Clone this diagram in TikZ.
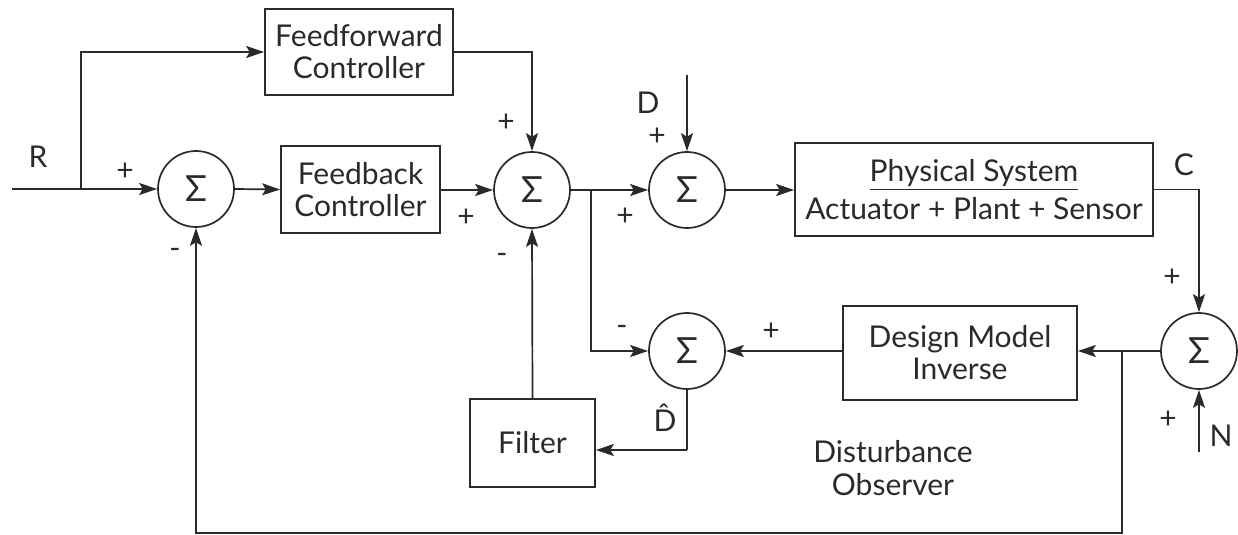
\documentclass[tikz,border=0pt]{standalone}
\usepackage{fontspec}
\setmainfont{Lato}
\usetikzlibrary{arrows.meta}
\definecolor{ink}{HTML}{2A2A2A}
\tikzset{
  every picture/.style={x=0.5pt,y=-0.5pt},
  wire/.style={draw=ink,line width=0.85pt},
  arr/.style={wire,-{Stealth[length=9pt,width=6pt,inset=1.8pt]}},
  sumnode/.style={circle,draw=ink,line width=0.85pt,minimum size=38pt,inner sep=0pt,font=\fontsize{18}{18}\selectfont,text=ink},
  blk/.style={rectangle,draw=ink,line width=0.85pt,inner sep=0pt,align=center,font=\fontsize{15}{16}\selectfont,text=ink},
  lbl/.style={inner sep=0pt,font=\fontsize{15}{15}\selectfont,text=ink},
  sgn/.style={inner sep=0pt,font=\fontsize{15}{15}\selectfont,text=ink}
}
\begin{document}
\begin{tikzpicture}
\useasboundingbox (0,0) rectangle (1238,535);
% blocks
\node[blk,minimum width=94pt,minimum height=43pt] (ff) at (359,52) {Feedforward\\Controller};
\node[blk,minimum width=79.5pt,minimum height=43.5pt] (fb) at (360.5,189.5) {Feedback\\Controller};
\node[blk,minimum width=179pt,minimum height=46.5pt,font=\fontsize{15}{19}\selectfont] (phys) at (974,189.5) {\underline{Physical System}\\Actuator + Plant + Sensor};
\node[blk,minimum width=117pt,minimum height=47pt] (dm) at (960,353) {Design Model\\Inverse};
\node[blk,minimum width=62.5pt,minimum height=44pt] (filt) at (532.5,443) {Filter};
% summing junctions
\node[sumnode] (s1) at (196,189) {Σ};
\node[sumnode] (s2) at (532,190) {Σ};
\node[sumnode] (s3) at (687,190) {Σ};
\node[sumnode] (s4) at (687,351) {Σ};
\node[sumnode] (s5) at (1199,351) {Σ};
% coordinates
\coordinate (rin) at (12,189);
\coordinate (br) at (81,189);
\coordinate (j1) at (591,190);
\coordinate (dtop) at (687,75);
\coordinate (nbot) at (1199,452);
\coordinate (j2) at (1122,351);
\coordinate (bot) at (1122,533);
\coordinate (dh) at (687,450);
% connectors
\draw[arr] (rin) -- (s1.west);
\draw[arr] (br) |- (ff.west);
\draw[arr] (s1.east) -- (fb.west);
\draw[arr] (fb.east|-s2) -- (s2.west);
\draw[arr] (ff.east) -| (s2.north);
\draw[wire] (s2.east) -- (j1);
\draw[arr] (j1) -- (s3.west);
\draw[arr] (j1) |- (s4.west);
\draw[arr] (dtop) -- (s3.north);
\draw[arr] (s3.east) -- (phys.west|-s3);
\draw[arr] (phys.east) -| (s5.north);
\draw[arr] (nbot) -- (s5.south);
\draw[arr] (s5.west) -- (dm.east|-s5);
\draw[arr] (dm.west|-s4) -- (s4.east);
\draw[wire] (s4.south) -- (dh);
\draw[arr] (dh) -- (filt.east|-dh);
\draw[arr] (filt.north) -- (s2.south);
\draw[arr] (j2) -- (bot) -| (s1.south);
% labels
\node[lbl] (lR) at (38,157) {R};
\node[lbl] (lD) at (648,103) {D};
\node[lbl] (lC) at (1184,165) {C};
\node[lbl] (lN) at (1221,436) {N};
\node[lbl] (lDh) at (665,418) {\^{D}};
\node[lbl,align=center,font=\fontsize{15}{16.5}\selectfont] (obs) at (893,468) {Disturbance\\Observer};
\node[sgn] (p1) at (125,172) {+};
\node[sgn] (m1) at (175,253) {-};
\node[sgn] (p2) at (506,123) {+};
\node[sgn] (p3) at (466,218) {+};
\node[sgn] (m2) at (502,258) {-};
\node[sgn] (p4) at (657,137) {+};
\node[sgn] (p5) at (625,217) {+};
\node[sgn] (p6) at (1172,278) {+};
\node[sgn] (m3) at (622,330) {-};
\node[sgn] (p7) at (771,332) {+};
\node[sgn] (p8) at (1168,420) {+};
\end{tikzpicture}
\end{document}
